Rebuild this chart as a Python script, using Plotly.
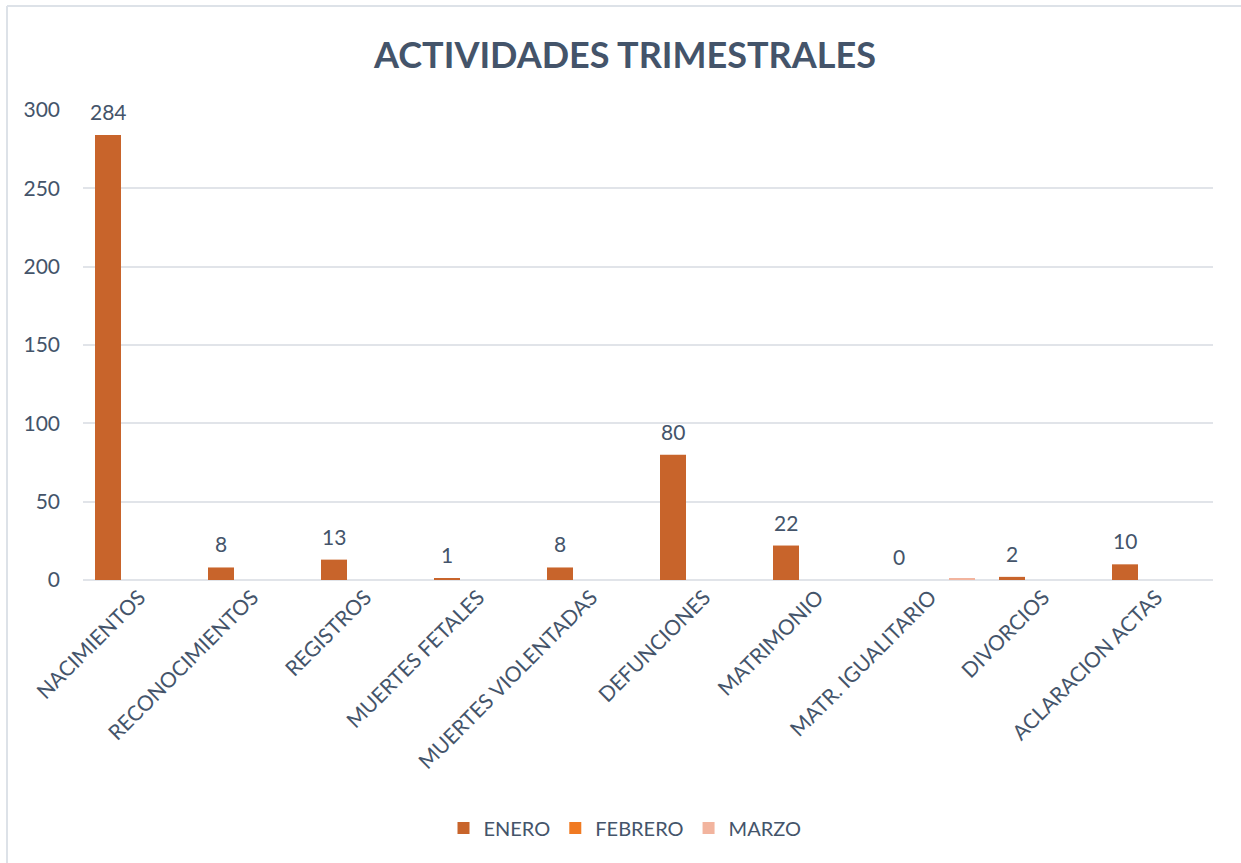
import plotly.graph_objects as go

categories = ["NACIMIENTOS", "RECONOCIMIENTOS", "REGISTROS", "MUERTES FETALES",
              "MUERTES VIOLENTADAS", "DEFUNCIONES", "MATRIMONIO",
              "MATR. IGUALITARIO", "DIVORCIOS", "ACLARACION ACTAS"]
enero = [284, 8, 13, 1, 8, 80, 22, 0, 2, 10]
febrero = [0, 0, 0, 0, 0, 0, 0, 0, 0, 0]
marzo = [0, 0, 0, 0, 0, 0, 0, 1, 0, 0]
series_names = ["ENERO", "FEBRERO", "MARZO"]
y_ticks = [0, 50, 100, 150, 200, 250, 300]

TXT = "#44546A"
FONT = "Lato, 'Open Sans', sans-serif"

fig = go.Figure()
fig.add_trace(go.Bar(name=series_names[0], x=categories, y=enero,
                     marker=dict(color="#C8642B", line=dict(width=0))))
fig.add_trace(go.Bar(name=series_names[1], x=categories, y=febrero,
                     marker=dict(color="#F07A22", line=dict(width=0))))
fig.add_trace(go.Bar(name=series_names[2], x=categories, y=marzo,
                     marker=dict(color="#F2B49E", line=dict(width=0))))

# plot area: x 83..1213, y 110..580
L, R, T, B = 83, 1213, 110, 580
W, H = 1241, 863
pw, ph = R - L, B - T
slot = 31.5  # pixel distance between grouped bars

def px_x(p):
    return (p - L) / pw

def px_y(p):
    return (B - p) / ph

# data labels for ENERO series
for c, v in zip(categories, enero):
    fig.add_annotation(x=c, y=v, xref="x", yref="y", text=str(v),
                       showarrow=False, xanchor="center", yanchor="bottom",
                       xshift=-slot, yshift=9,
                       font=dict(size=21, color=TXT, family=FONT))

border = "#DDE2E8"
fig.add_shape(type="line", xref="paper", yref="paper",
              x0=px_x(7), x1=px_x(1245), y0=px_y(6), y1=px_y(6),
              line=dict(color=border, width=2))
fig.add_shape(type="line", xref="paper", yref="paper",
              x0=px_x(7), x1=px_x(7), y0=px_y(6), y1=px_y(870),
              line=dict(color=border, width=2))

fig.update_layout(
    width=W, height=H,
    margin=dict(l=L, r=W - R, t=T, b=H - B, autoexpand=False),
    paper_bgcolor="white", plot_bgcolor="white",
    font=dict(family=FONT, color=TXT, size=21),
    title=dict(text="<b>ACTIVIDADES TRIMESTRALES</b>", x=px_x(625), xanchor="center",
               xref="paper",
               y=1 - 55 / H, yanchor="middle",
               font=dict(size=36, color=TXT, family=FONT)),
    barmode="group", bargap=0.1637, bargroupgap=0.1746,
    showlegend=True,
    legend=dict(orientation="h", x=px_x(625), xanchor="center",
                y=px_y(828), yanchor="middle",
                font=dict(size=20, color=TXT, family=FONT),
                itemwidth=30, traceorder="normal"),
    xaxis=dict(tickangle=-45, showgrid=False, showline=False, ticks="",
               tickfont=dict(size=21, color=TXT, family=FONT)),
    yaxis=dict(range=[0, 300], tickvals=y_ticks, showgrid=True,
               gridcolor="#E1E4E9", gridwidth=2, zeroline=True,
               zerolinecolor="#E1E4E9", zerolinewidth=2, showline=False,
               ticks="", ticklabelstandoff=22,
               tickfont=dict(size=21, color=TXT, family=FONT)),
)

fig.write_html("out.html", config={"displayModeBar": False},
               post_script="document.body.style.margin='0';")
